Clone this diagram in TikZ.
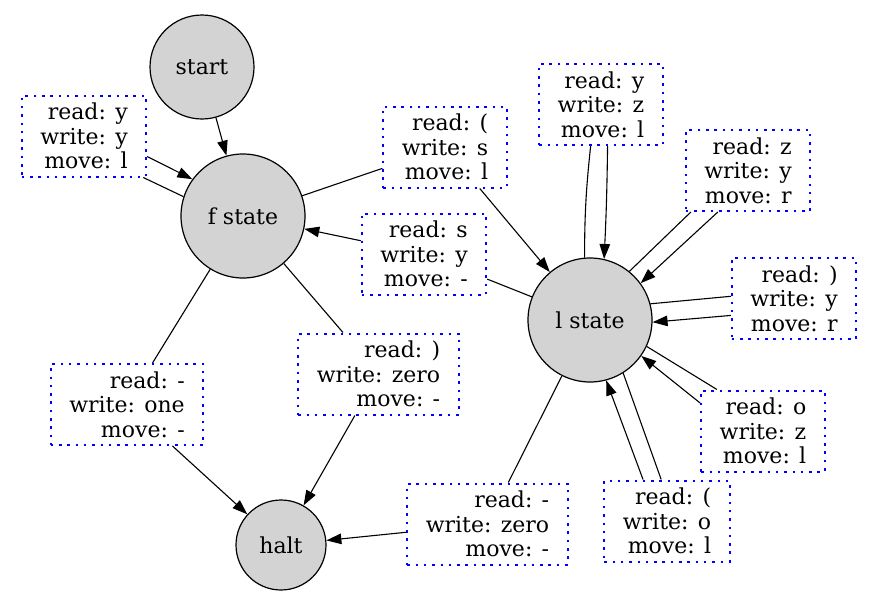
\documentclass[tikz,border=0pt]{standalone}
\usepackage{fontspec}
\setmainfont{DejaVu Serif}
\usetikzlibrary{arrows.meta}
\definecolor{stategray}{RGB}{211,211,211}

\begin{document}
\begin{tikzpicture}[x=1pt,y=-1pt,
  font=\fontsize{22}{24.5}\selectfont,
  state/.style={circle,draw=black,line width=1.2pt,fill=stategray,inner sep=0pt},
  move/.style={draw=blue,line width=2pt,dash pattern=on 2.5pt off 5.8pt,align=right,inner xsep=18.5pt,minimum height=81pt},
  edge/.style={line width=1.1pt},
  trans/.style={edge,-{Triangle[length=15pt,width=10.5pt]}}]
  \useasboundingbox (0,0) rectangle (875,608);
  % states
  \node[state,minimum size=104pt] (start) at (202,67) {start};
  \node[state,minimum size=124pt] (fstate) at (243,216) {f state};
  \node[state,minimum size=124pt] (lstate) at (590,320) {l state};
  \node[state,minimum size=90pt] (halt) at (281,545) {halt};
  % transitions
  \node[move] (fyy) at (84,136) {read: y\\write: y\\move: l};
  \node[move] (fop) at (445,147) {read: (\\write: s\\move: l};
  \node[move] (lsy) at (424,254) {read: s\\write: y\\move: -};
  \node[move] (lyz) at (601,104.5) {read: y\\write: z\\move: l};
  \node[move] (lzy) at (748,170.5) {read: z\\write: y\\move: r};
  \node[move] (lcy) at (794,298.5) {read: )\\write: y\\move: r};
  \node[move] (loz) at (763,431) {read: o\\write: z\\move: l};
  \node[move] (lpo) at (667,521) {read: (\\write: o\\move: l};
  \node[move] (lzero) at (487.5,524) {read: -\\write: zero\\move: -};
  \node[move] (fzero) at (378.5,374) {read: )\\write: zero\\move: -};
  \node[move] (fone) at (127,404.5) {read: -\\write: one\\move: -};
  % edges
  \draw[trans] (start) -- (fstate);
  \draw[edge] (fstate.162) -- (fyy.325);
  \draw[trans] (fyy.342) -- (fstate.144);
  \draw[edge] (fstate) -- (fop);
  \draw[trans] (fop) -- (lstate);
  \draw[edge] (lstate) -- (lsy);
  \draw[trans] (lsy) -- (fstate);
  \draw[edge] (lstate.95) to[bend left=3] (lyz.256);
  \draw[trans] (lyz.279) to[bend left=1] (lstate.77);
  \draw[edge] (lstate.51) -- (lzy.216);
  \draw[trans] (lzy.234) -- (lstate.36);
  \draw[edge] (lstate.15) -- (lcy.178);
  \draw[trans] (lcy.195) -- (lstate.358);
  \draw[edge] (lstate.335) -- (loz.138);
  \draw[trans] (loz.156) -- (lstate.325);
  \draw[edge] (lstate.302) -- (lpo.98);
  \draw[trans] (lpo.120) -- (lstate.285);
  \draw[edge] (lstate) -- (lzero);
  \draw[trans] (lzero) -- (halt);
  \draw[edge] (fstate) -- (fzero);
  \draw[trans] (fzero) -- (halt);
  \draw[edge] (fstate) -- (fone);
  \draw[trans] (fone) -- (halt);
\end{tikzpicture}
\end{document}
